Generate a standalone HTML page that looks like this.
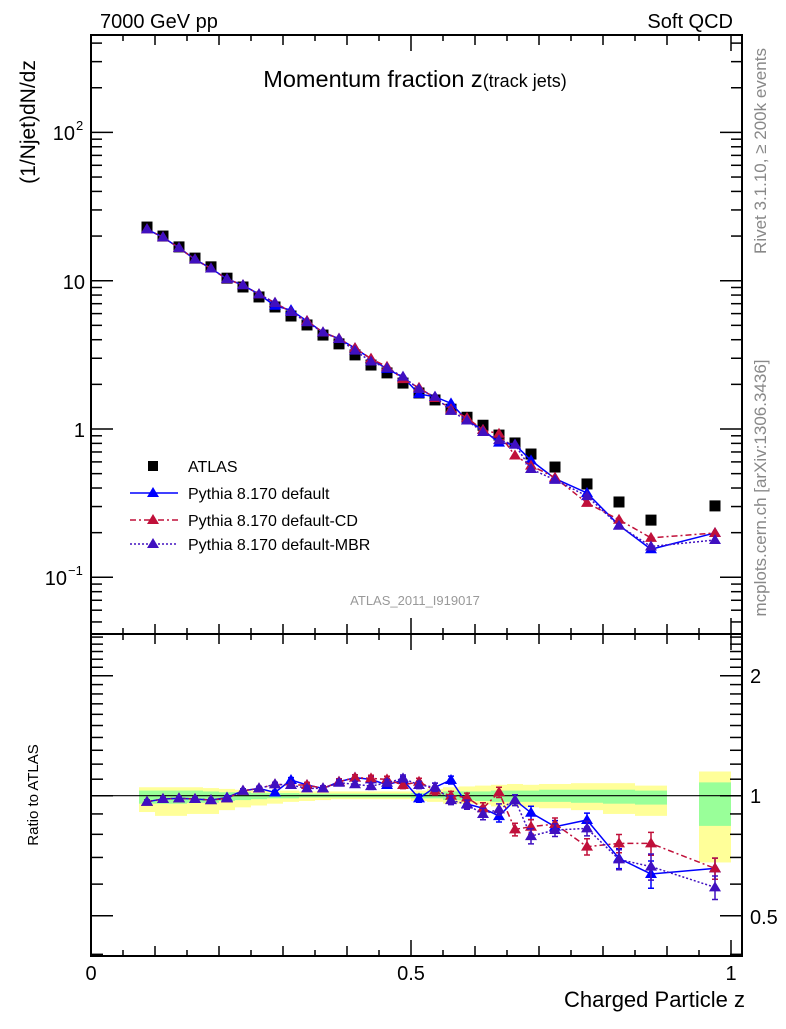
<!DOCTYPE html>
<html><head><meta charset="utf-8"><style>
body{margin:0;background:#fff}
svg text{font-family:"Liberation Sans",sans-serif}
</style></head><body>
<svg id="c" width="786" height="1024" xmlns="http://www.w3.org/2000/svg">
<rect width="786" height="1024" fill="#fff"/>
<g id="bands"></g>
<g id="marks"></g>
<g id="axes"></g>
<text x="100" y="28" font-size="20">7000 GeV pp</text>
<text x="733" y="28" font-size="20" text-anchor="end">Soft QCD</text>
<text x="415" y="87" font-size="23.5" text-anchor="middle">Momentum fraction z<tspan font-size="18">(track jets)</tspan></text>
<text transform="translate(35,122) rotate(-90)" font-size="21" text-anchor="middle">(1/Njet)dN/dz</text>
<text transform="translate(38,795) rotate(-90)" font-size="15" text-anchor="middle">Ratio to ATLAS</text>
<text x="745" y="1007" font-size="22" text-anchor="end">Charged Particle z</text>
<text transform="translate(766,151) rotate(-90)" font-size="17" fill="#888" text-anchor="middle">Rivet 3.1.10, ≥ 200k events</text>
<text transform="translate(766,488) rotate(-90)" font-size="17" fill="#888" text-anchor="middle">mcplots.cern.ch [arXiv:1306.3436]</text>
<text x="415" y="605" font-size="13" fill="#999" text-anchor="middle">ATLAS_2011_I919017</text>
<g>
<rect x="148" y="461" width="10" height="10" fill="#000"/>
<text x="188" y="472" font-size="16">ATLAS</text>
<line x1="130" y1="493" x2="178" y2="493" stroke="#00f" stroke-width="1.5"/>
<polygon points="153,487 147,497 159,497" fill="#00f"/>
<text x="188" y="499" font-size="16">Pythia 8.170 default</text>
<line x1="130" y1="520" x2="178" y2="520" stroke="#c0103a" stroke-width="1.5" stroke-dasharray="6,3,2,3"/>
<polygon points="153,514 147,524 159,524" fill="#c0103a"/>
<text x="188" y="526" font-size="16">Pythia 8.170 default-CD</text>
<line x1="130" y1="544" x2="178" y2="544" stroke="#4010c0" stroke-width="1.5" stroke-dasharray="2,2"/>
<polygon points="153,538 147,548 159,548" fill="#4010c0"/>
<text x="188" y="550" font-size="16">Pythia 8.170 default-MBR</text>
</g>
</svg>
<script>
const zc=[0.0875,0.1125,0.1375,0.1625,0.1875,0.2125,0.2375,0.2625,0.2875,0.3125,0.3375,0.3625,0.3875,0.4125,0.4375,0.4625,0.4875,0.5125,0.5375,0.5625,0.5875,0.6125,0.6375,0.6625,0.6875,0.725,0.775,0.825,0.875,0.975];
const zlo=[0.075,0.1,0.125,0.15,0.175,0.2,0.225,0.25,0.275,0.3,0.325,0.35,0.375,0.4,0.425,0.45,0.475,0.5,0.525,0.55,0.575,0.6,0.625,0.65,0.675,0.7,0.75,0.8,0.85,0.95];
const zhi=[0.1,0.125,0.15,0.175,0.2,0.225,0.25,0.275,0.3,0.325,0.35,0.375,0.4,0.425,0.45,0.475,0.5,0.525,0.55,0.575,0.6,0.625,0.65,0.675,0.7,0.75,0.8,0.85,0.9,1.0];
const atlas=[23.0,20.0,16.9,14.2,12.4,10.4,9.07,7.77,6.65,5.78,5.03,4.30,3.75,3.16,2.70,2.39,2.04,1.75,1.57,1.36,1.20,1.06,0.91,0.805,0.678,0.554,0.426,0.322,0.243,0.303];
const rDef=[0.966,0.981,0.985,0.981,0.975,0.99,1.029,1.043,1.019,1.095,1.064,1.043,1.084,1.11,1.099,1.064,1.095,0.985,1.05,1.095,0.953,0.93,0.889,0.975,0.906,0.836,0.869,0.696,0.636,0.657];
const rCD=[0.966,0.981,0.985,0.981,0.975,0.985,1.029,1.043,1.068,1.064,1.064,1.043,1.084,1.11,1.105,1.099,1.064,1.084,1.03,1.0,0.99,0.93,1.02,0.823,0.836,0.849,0.745,0.759,0.759,0.657];
const rMBR=[0.966,0.981,0.985,0.981,0.975,0.985,1.029,1.043,1.068,1.064,1.043,1.043,1.078,1.068,1.057,1.078,1.105,1.064,1.05,0.975,0.95,0.9,0.924,0.975,0.792,0.82,0.828,0.692,0.664,0.589];
const rErr=[0.01,0.01,0.01,0.01,0.01,0.01,0.012,0.012,0.012,0.015,0.015,0.015,0.018,0.018,0.02,0.02,0.022,0.022,0.025,0.025,0.025,0.03,0.03,0.03,0.035,0.03,0.035,0.04,0.05,0.04];
const gLo=[0.955,0.955,0.955,0.96,0.96,0.97,0.975,0.98,0.985,0.985,0.99,0.99,0.99,0.99,0.99,0.99,0.99,0.985,0.985,0.975,0.975,0.97,0.965,0.965,0.965,0.965,0.96,0.955,0.95,0.84];
const gHi=[1.03,1.03,1.03,1.03,1.025,1.02,1.02,1.015,1.015,1.015,1.012,1.012,1.012,1.012,1.012,1.012,1.012,1.015,1.02,1.025,1.025,1.025,1.03,1.03,1.03,1.035,1.035,1.035,1.03,1.08];
const yLo=[0.91,0.89,0.89,0.9,0.9,0.92,0.935,0.945,0.955,0.965,0.97,0.975,0.98,0.98,0.98,0.98,0.98,0.97,0.965,0.955,0.955,0.95,0.94,0.94,0.935,0.93,0.92,0.9,0.89,0.68];
const yHi=[1.05,1.05,1.05,1.05,1.045,1.04,1.035,1.03,1.03,1.03,1.025,1.025,1.025,1.025,1.025,1.025,1.025,1.03,1.04,1.05,1.055,1.06,1.065,1.07,1.065,1.07,1.075,1.075,1.06,1.15];
const NS='http://www.w3.org/2000/svg';
const X=z=>91+640*z, YM=v=>429-148.3*Math.log10(v), YR=r=>795.7-398.6*Math.log10(r);
const T1=35, B1=634, T2=634, B2=956;
function mk(par,tag,at){const e=document.createElementNS(NS,tag);for(const k in at)e.setAttribute(k,at[k]);document.getElementById(par).appendChild(e);return e;}
for(let i=0;i<zc.length;i++){
 let e=mk('bands','rect',{x:X(zlo[i]),y:YR(yHi[i]),width:X(zhi[i])-X(zlo[i]),height:YR(yLo[i])-YR(yHi[i]),fill:'#ffff99'});
 
 
 e=mk('bands','rect',{x:X(zlo[i]),y:YR(gHi[i]),width:X(zhi[i])-X(zlo[i]),height:YR(gLo[i])-YR(gHi[i]),fill:'#99ff99'});
 
 
}
let l=mk('bands','line',{x1:91,x2:742,y1:YR(1),y2:YR(1),stroke:'#000','stroke-width':1.2});


for(let i=0;i<zc.length;i++){
 const e=mk('marks','rect',{x:X(zc[i])-5.5,y:YM(atlas[i])-5.5,width:11,height:11,fill:'#000'});
 
 
}
const series=[[rDef,'#0000ff','none','default'],[rCD,'#c0103a','6,3,2,3','cd'],[rMBR,'#4010c0','2,2','mbr']];
series.forEach(([r,col,da,nm])=>{
 let pm='',pr='';
 for(let i=0;i<zc.length;i++){const x=X(zc[i]);pm+=(i?'L':'M')+x+','+YM(atlas[i]*r[i]);pr+=(i?'L':'M')+x+','+YR(r[i]);}
 let e=mk('marks','path',{d:pm,fill:'none',stroke:col,'stroke-width':1.5,'stroke-dasharray':da});
 
 
 e=mk('marks','path',{d:pr,fill:'none',stroke:col,'stroke-width':1.5,'stroke-dasharray':da});
 
 
 for(let i=0;i<zc.length;i++){
  const x=X(zc[i]);
  let y=YM(atlas[i]*r[i]);
  e=mk('marks','polygon',{points:`${x},${y-6} ${x-6},${y+4} ${x+6},${y+4}`,fill:col});
  
  
  y=YR(r[i]);
  const y1=YR(r[i]+rErr[i]),y2=YR(r[i]-rErr[i]);
  e=mk('marks','path',{d:`M${x},${y1}L${x},${y2}M${x-3},${y1}L${x+3},${y1}M${x-3},${y2}L${x+3},${y2}`,stroke:col,'stroke-width':1.5});
  
  
  e=mk('marks','polygon',{points:`${x},${y-6} ${x-6},${y+4} ${x+6},${y+4}`,fill:col});
  
  
 }
});
function ln(x1,y1,x2,y2,w){mk('axes','line',{x1,y1,x2,y2,stroke:'#000','stroke-width':w||1.5});}
const fr1=mk('axes','rect',{x:91,y:T1,width:651,height:B1-T1,fill:'none',stroke:'#000','stroke-width':2});


const fr2=mk('axes','rect',{x:91,y:T2,width:651,height:B2-T2,fill:'none',stroke:'#000','stroke-width':2});


for(let k=0;k<=20;k++){const z=k*0.05,x=X(z);const len=(k%10==0)?16:(k%2==0?10:6);
 [[T1,1],[B1,-1],[T2,1],[B2,-1]].forEach(([y,s])=>ln(x,y,x,y+s*len));}
for(let d=-2;d<=2;d++)for(let m=1;m<10;m++){const v=m*Math.pow(10,d),y=YM(v);if(y<T1||y>B1)continue;const len=m==1?22:11;ln(91,y,91+len,y);ln(742,y,742-len,y);}
const rt=[0.4,0.5,0.6,0.7,0.8,0.9,1,1.1,1.2,1.3,1.4,1.5,1.6,1.7,1.8,1.9,2,2.1,2.2,2.3,2.4,2.5];
rt.forEach(r=>{const y=YR(r);if(y<T2||y>B2)return;const maj=(r==0.5||r==1||r==2);const len=maj?22:12;ln(91,y,91+len,y);ln(742,y,742-len,y);});
function tx(x,y,s,anc,fs,nm){const e=mk('axes','text',{x,y,'font-size':fs,'text-anchor':anc});e.textContent=s;
 
 return e;}
tx(85,289,'10','end',20,'y-tick-label');tx(85,437,'1','end',20,'y-tick-label');
tx(75,140,'10','end',20,'y-tick-label');mk('axes','text',{x:76,y:130,'font-size':13}).textContent='2';
tx(67,585,'10','end',20,'y-tick-label');mk('axes','text',{x:68,y:575,'font-size':13}).textContent='−1';
tx(750,683,'2','start',20,'ratio-tick-label');tx(750,803,'1','start',20,'ratio-tick-label');tx(750,924,'0.5','start',20,'ratio-tick-label');
tx(91,980,'0','middle',20,'x-tick-label');tx(411,980,'0.5','middle',20,'x-tick-label');tx(731,980,'1','middle',20,'x-tick-label');
</script>
</body></html>
